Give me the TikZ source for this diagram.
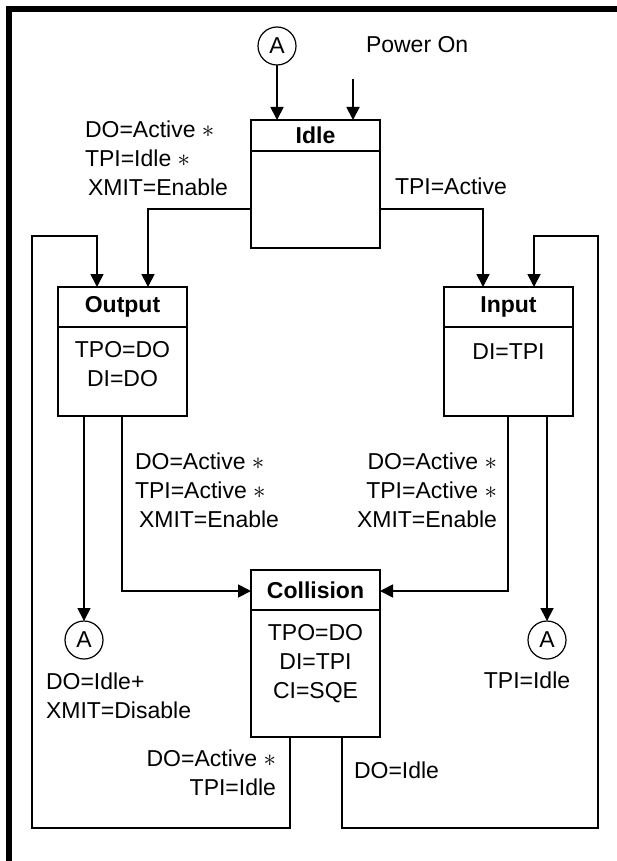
\documentclass[tikz,border=0pt]{standalone}
\usepackage{fontspec}
\setmainfont{Liberation Sans}
\usetikzlibrary{arrows.meta,calc}
\begin{document}
\begin{tikzpicture}[x=1pt,y=-1pt,
  every node/.style={font=\fontsize{23}{29}\selectfont, inner sep=0pt, outer sep=0pt},
  box/.style={draw, line width=1.8pt, minimum width=129pt, minimum height=#1},
  hdr/.style={font=\fontsize{23}{29}\selectfont\bfseries},
  conn/.style={line width=1.8pt},
  arr/.style={conn, -{Triangle[length=13pt,width=13pt]}},
  conA/.style={draw, circle, line width=1.2pt, minimum size=38pt},
  lblL/.style={align=left, anchor=west},
  lblR/.style={align=right, anchor=east}
]
\useasboundingbox (0,0) rectangle (617,861);
% frame
\fill (6,6) rectangle (12,861);
\fill (6,6) rectangle (617,12);

% boxes
\node[box=128pt] (idle) at (315.5,184) {};
\node[box=129pt] (output) at (122.5,351.5) {};
\node[box=129pt] (input) at (508.5,351.5) {};
\node[box=167pt] (coll) at (315.5,653.5) {};

\draw[conn] ($(idle.north west)+(0,31)$) -- ($(idle.north east)+(0,31)$);
\draw[conn] ($(output.north west)+(0,40)$) -- ($(output.north east)+(0,40)$);
\draw[conn] ($(input.north west)+(0,40)$) -- ($(input.north east)+(0,40)$);
\draw[conn] ($(coll.north west)+(0,40)$) -- ($(coll.north east)+(0,40)$);

\node[hdr] (idleT) at (315.5,135.5) {Idle};
\node[hdr] (outputT) at (122.5,307) {Output};
\node[hdr] (inputT) at (508.5,307) {Input};
\node[hdr] (collT) at (315.5,590) {Collision};

\node[align=center] (outputC) at (122.5,364.5) {TPO=DO\\DI=DO};
\node (inputC) at (508.5,352) {DI=TPI};
\node[align=center] (collC) at (315.5,664) {TPO=DO\\DI=TPI\\CI=SQE};

% connectors A
\node[conA] (Atop) at (277,46) {A};
\node[conA] (Aleft) at (84,640) {A};
\node[conA] (Aright) at (547,640) {A};

\node[anchor=west] (pwr) at (366,45) {Power On};
\coordinate (pwrS) at (353,79);

% arrows into Idle
\draw[arr] (Atop.south) -- (Atop.south |- idle.north);
\draw[arr] (pwrS) -- (pwrS |- idle.north);

% Idle -> Output / Input
\coordinate (i1) at (148,209);
\coordinate (i2) at (483,209);
\draw[arr] (idle.west |- i1) -| (i1 |- output.north);
\draw[arr] (idle.east |- i2) -| (i2 |- input.north);

% Output -> A, Output -> Collision
\coordinate (o1) at (84,416);
\coordinate (o2) at (122,591);
\draw[arr] (o1 |- output.south) -- (Aleft.north);
\draw[arr] (o2 |- output.south) -- (o2) -- (coll.west |- o2);

% Input -> A, Input -> Collision
\coordinate (n1) at (547,416);
\coordinate (n2) at (508,591);
\draw[arr] (n1 |- input.south) -- (Aright.north);
\draw[arr] (n2 |- input.south) -- (n2) -- (coll.east |- n2);

% loops from Collision
\coordinate (l1) at (290,828);
\coordinate (l2) at (32,236);
\coordinate (l3) at (97,236);
\draw[arr] (l1 |- coll.south) -- (l1) -| (l2) -- (l3) -- (l3 |- output.north);
\coordinate (r1) at (342,828);
\coordinate (r2) at (598,236);
\coordinate (r3) at (534,236);
\draw[arr] (r1 |- coll.south) -- (r1) -| (r2) -- (r3) -- (r3 |- input.north);

% labels
\node[lblL] (lab1) at (85,158) {DO=Active $\ast$\\TPI=Idle $\ast$\\\hspace{3pt}XMIT=Enable};
\node[lblL] (lab2) at (395,186) {TPI=Active};
\node[lblL] (lab3) at (135,490) {DO=Active $\ast$\\TPI=Active $\ast$\\\hspace{4pt}XMIT=Enable};
\node[lblR] (lab4) at (497,490) {DO=Active $\ast$\\TPI=Active $\ast$\\XMIT=Enable};
\node[lblL] (lab5) at (46,696) {DO=Idle+\\XMIT=Disable};
\node (lab6) at (527,680) {TPI=Idle};
\node[lblR] (lab7) at (276,773) {DO=Active $\ast$\\TPI=Idle};
\node[lblL] (lab8) at (354,770) {DO=Idle};
\end{tikzpicture}
\end{document}
